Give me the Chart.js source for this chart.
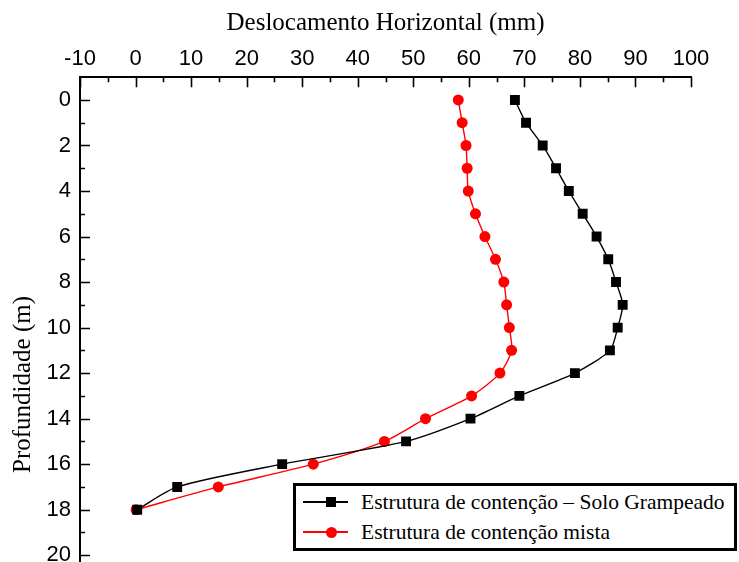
<!DOCTYPE html>
<html>
<head>
<meta charset="utf-8">
<script src="https://cdn.jsdelivr.net/npm/chart.js@4/dist/chart.umd.min.js"></script>
<style>
  html, body { margin: 0; padding: 0; background: #fff; overflow: hidden; width: 739px; height: 562px; }
  #wrap { position: relative; width: 739px; height: 714px; }
  #legend { position: absolute; left: 293px; top: 483px; width: 438px; height: 62px; border: 3px solid #000; background: #fff;
            font-family: "Liberation Serif", "Times New Roman", serif; font-size: 21.5px; color: #000; }
  .row { position: absolute; left: 0; height: 28px; display: flex; align-items: center; }
  .sample { position: relative; width: 45px; height: 28px; margin-left: 7px; margin-right: 13px; }
  .sample .ln { position: absolute; left: 0; right: 0; top: 13px; height: 1.5px; }
  .sample .mk { position: absolute; }
</style>
</head>
<body>
<div id="wrap">
  <canvas id="c" width="739" height="714"></canvas>
  <div id="legend"></div>
</div>
<script>
// ---- data ----
const depth = [0, 1, 2, 3, 4, 5, 6, 7, 8, 9, 10, 11, 12, 13, 14, 15, 16, 17, 18];
const soloGrampeado = [68.3, 70.3, 73.3, 75.7, 78.0, 80.5, 83.0, 85.1, 86.5, 87.7, 86.8, 85.4, 79.1, 69.1, 60.3, 48.7, 26.4, 7.5, 0.3];
const mista = [58.1, 58.8, 59.5, 59.7, 59.9, 61.2, 62.9, 64.8, 66.3, 66.8, 67.3, 67.7, 65.6, 60.5, 52.2, 44.8, 32.0, 14.9, 0.1];
const seriesLabels = ["Estrutura de contenção – Solo Grampeado", "Estrutura de contenção mista"];
const xTitle = "Deslocamento Horizontal (mm)";
const yTitle = "Profundidade (m)";

const toPoints = (xs) => xs.map((v, i) => ({ x: v, y: depth[i] }));

const insideTicks = {
  id: 'insideTicks',
  afterDraw(chart) {
    const { ctx, chartArea, scales: { x, y } } = chart;
    ctx.save();
    ctx.strokeStyle = '#000';
    ctx.lineWidth = 1.6;
    ctx.beginPath();
    for (let v = x.min; v <= x.max + 1e-9; v += 5) {
      const px = Math.round(x.getPixelForValue(v)) + 0.5;
      const len = (Math.round(v) % 10 === 0) ? 10 : 5;
      ctx.moveTo(px, chartArea.top);
      ctx.lineTo(px, chartArea.top + len);
    }
    for (let v = 0; v <= y.max + 1e-9; v += 1) {
      const py = Math.round(y.getPixelForValue(v)) + 0.5;
      const len = (v % 2 === 0) ? 10 : 5;
      ctx.moveTo(chartArea.left, py);
      ctx.lineTo(chartArea.left + len, py);
    }
    ctx.stroke();
    ctx.restore();
  }
};

const chart = new Chart(document.getElementById('c'), {
  type: 'line',
  data: {
    datasets: [
      {
        label: seriesLabels[0],
        data: toPoints(soloGrampeado),
        borderColor: '#000',
        backgroundColor: '#000',
        borderWidth: 1.4,
        pointStyle: 'rect',
        pointRadius: 7,
        pointBorderWidth: 0,
        tension: 0.25,
        fill: false
      },
      {
        label: seriesLabels[1],
        data: toPoints(mista),
        borderColor: '#ff0000',
        backgroundColor: '#ff0000',
        borderWidth: 1.4,
        pointStyle: 'circle',
        pointRadius: 5.5,
        pointBorderWidth: 0,
        tension: 0.25,
        fill: false
      }
    ]
  },
  options: {
    responsive: false,
    animation: false,
    events: [],
    layout: { padding: { left: 0, right: 48, top: 0, bottom: 20 } },
    plugins: { legend: { display: false }, tooltip: { enabled: false } },
    scales: {
      x: {
        type: 'linear',
        position: 'top',
        min: -10, max: 100,
        ticks: { stepSize: 10, color: '#000', padding: 5, font: { family: 'Liberation Sans', size: 22 } },
        grid: { display: false, drawTicks: false },
        border: { display: true, color: '#000', width: 2 },
        title: { display: true, text: xTitle, color: '#000', padding: { top: 8, bottom: 4 },
                 font: { family: 'Liberation Serif', size: 25 } },
        afterFit(scale) { scale.height = 77.2; }
      },
      y: {
        type: 'linear',
        reverse: true,
        min: -1, max: 26,
        ticks: { stepSize: 2, includeBounds: false, color: '#000', padding: 9, font: { family: 'Liberation Sans', size: 22 } },
        grid: { display: false, drawTicks: false },
        border: { display: true, color: '#000', width: 2 },
        title: { display: true, text: yTitle, color: '#000', padding: { top: 8, bottom: 0 },
                 font: { family: 'Liberation Serif', size: 25 } },
        afterFit(scale) { scale.width = 80; }
      }
    }
  },
  plugins: [insideTicks]
});

// HTML legend built from dataset styles
const legend = document.getElementById('legend');
chart.data.datasets.forEach((ds, i) => {
  const row = document.createElement('div');
  row.className = 'row';
  row.style.top = (2 + i * 30) + 'px';
  const s = document.createElement('div');
  s.className = 'sample';
  const ln = document.createElement('div');
  ln.className = 'ln';
  ln.style.background = ds.borderColor;
  const mk = document.createElement('div');
  mk.className = 'mk';
  const size = ds.pointStyle === 'rect' ? 10 : 11;
  mk.style.width = size + 'px';
  mk.style.height = size + 'px';
  mk.style.left = (28 - size / 2) + 'px';
  mk.style.top = (14 - size / 2) + 'px';
  mk.style.background = ds.backgroundColor;
  if (ds.pointStyle === 'circle') mk.style.borderRadius = '50%';
  s.appendChild(ln); s.appendChild(mk);
  const t = document.createElement('span');
  t.textContent = ds.label;
  row.appendChild(s); row.appendChild(t);
  legend.appendChild(row);
});
</script>
</body>
</html>
